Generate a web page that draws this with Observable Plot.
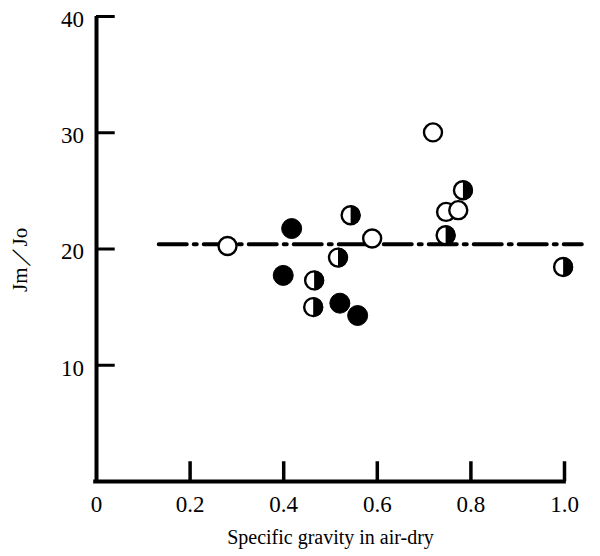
<!DOCTYPE html>
<html>
<head>
<meta charset="utf-8">
<script src="https://cdn.jsdelivr.net/npm/d3@7"></script>
<script src="https://cdn.jsdelivr.net/npm/@observablehq/plot@0.6"></script>
<style>
  html, body { margin: 0; padding: 0; background: #fff; }
  #chart svg { display: block; }
</style>
</head>
<body>
<div id="chart"></div>
<script>
// Open circles
const openX = [0.280, 0.589, 0.719, 0.747, 0.773];
const openY = [20.26, 20.9, 30.03, 23.19, 23.34];
// Filled circles
const filledX = [0.417, 0.399, 0.520, 0.558];
const filledY = [21.76, 17.73, 15.34, 14.28];
// Half-filled circles (right half black)
const halfX = [0.465, 0.463, 0.516, 0.543, 0.783, 0.746, 0.997];
const halfY = [17.30, 15.0, 19.26, 22.9, 25.06, 21.18, 18.45];
// Mean line (dash-dot)
const meanX = [0.133, 1.037];
const meanY = [20.4, 20.4];
// Ticks
const xTicks = [0.2, 0.4, 0.6, 0.8, 1.0];
const xTickLabels = ["0", "0.2", "0.4", "0.6", "0.8", "1.0"];
const xTickLabelValues = [0, 0.2, 0.4, 0.6, 0.8, 1.0];
const yTicks = [10, 20, 30, 40];
const yTickLabels = ["10", "20", "30", "40"];
const xLabel = "Specific gravity in air-dry";
const yLabel = "Jm／Jo";

const openData = openX.map((x, i) => ({x, y: openY[i]}));
const filledData = filledX.map((x, i) => ({x, y: filledY[i]}));
const halfData = halfX.map((x, i) => ({x, y: halfY[i]}));
const meanData = meanX.map((x, i) => ({x, y: meanY[i]}));

const rightHalf = {
  draw(context, size) {
    const r = Math.sqrt(size / Math.PI);
    context.moveTo(0, -r);
    context.arc(0, 0, r, -Math.PI / 2, Math.PI / 2);
    context.closePath();
  }
};

const font = "'Liberation Serif', 'Times New Roman', serif";

const chart = Plot.plot({
  width: 600,
  height: 556,
  marginLeft: 96,
  marginRight: 36,
  marginTop: 16,
  marginBottom: 75,
  style: {fontFamily: font, background: "#fff", color: "#000"},
  x: {domain: [0, 1], axis: null},
  y: {domain: [0, 40], axis: null},
  marks: [
    // axes lines
    Plot.ruleX([0], {y1: 0, y2: 40, stroke: "#000", strokeWidth: 4}),
    Plot.ruleY([0], {x1: -0.006, x2: 1.004, stroke: "#000", strokeWidth: 4}),
    // inward ticks
    Plot.ruleY(yTicks, {x1: 0, x2: 0.04, stroke: "#000", strokeWidth: 3}),
    Plot.ruleX(xTicks, {y1: 0, y2: 1.7, stroke: "#000", strokeWidth: 3.5}),
    // tick labels
    Plot.text(yTicks, {x: 0, y: d => d, text: (d, i) => yTickLabels[i], dx: -12.5, dy: 3, textAnchor: "end", fontSize: 23, fontFamily: font, fill: "#000"}),
    Plot.text(xTickLabelValues, {x: d => d, y: 0, text: (d, i) => xTickLabels[i], dy: 23, fontSize: 23, fontFamily: font, fill: "#000", letterSpacing: "3.5px"}),
    // axis titles
    Plot.text([xLabel], {frameAnchor: "bottom", dy: 62, fontSize: 20, fontFamily: font, fill: "#000"}),
    Plot.text([yLabel], {frameAnchor: "left", dx: -76, dy: 43, rotate: -90, fontSize: 21, fontFamily: font, fill: "#000", letterSpacing: "5px"}),
    // mean dash-dot line
    Plot.line(meanData, {x: "x", y: "y", stroke: "#000", strokeWidth: 4, strokeDasharray: "28,7,3,7"}),
    // markers
    Plot.dot(filledData, {x: "x", y: "y", r: 10, fill: "#000", stroke: "#000", strokeWidth: 1}),
    Plot.dot(openData, {x: "x", y: "y", r: 9, fill: "#fff", stroke: "#000", strokeWidth: 2.4}),
    Plot.dot(halfData, {x: "x", y: "y", r: 9, fill: "#fff", stroke: "#000", strokeWidth: 2.4}),
    Plot.dot(halfData, {x: "x", y: "y", r: 10, symbol: rightHalf, fill: "#000", stroke: "none"})
  ]
});
document.getElementById("chart").appendChild(chart);
</script>
</body>
</html>
